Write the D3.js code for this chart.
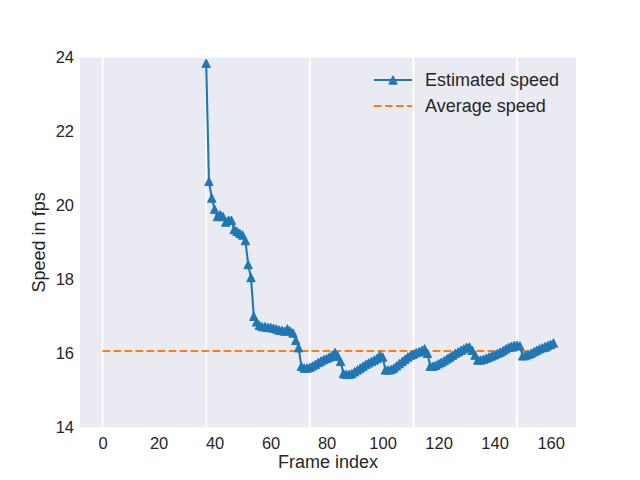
<!DOCTYPE html>
<html>
<head>
<meta charset="utf-8">
<script src="https://cdn.jsdelivr.net/npm/d3@7"></script>
<style>
  html, body { margin: 0; padding: 0; background: #fff; }
  svg text { font-family: "Liberation Sans", Arial, sans-serif; fill: #262626; }
</style>
</head>
<body>
<svg id="chart" width="640" height="480"></svg>
<script>
// frame indices that have an estimate
const frames = [
  37, 38, 39, 40, 41, 42, 43, 44, 45, 46,
  47, 48, 49, 50, 51, 52, 53, 54, 55, 56,
  57, 58, 59, 60, 61, 62, 63, 64, 65, 66,
  67, 68, 69, 70, 71, 72, 73, 74, 75, 76,
  77, 78, 79, 80, 81, 82, 83, 84, 85, 86,
  87, 88, 89, 90, 91, 92, 93, 94, 95, 96,
  97, 98, 99, 100, 101, 102, 103, 104, 105, 106,
  107, 108, 109, 110, 111, 112, 113, 114, 115, 116,
  117, 118, 119, 120, 121, 122, 123, 124, 125, 126,
  127, 128, 129, 130, 131, 132, 133, 134, 135, 136,
  137, 138, 139, 140, 141, 142, 143, 144, 145, 146,
  147, 148, 149, 150, 151, 152, 153, 154, 155, 156,
  157, 158, 159, 160, 161
];

// estimated speed (fps), one per frame above
const estimatedSpeed = [
  23.85, 20.65, 20.2, 19.9, 19.7, 19.75, 19.7, 19.55, 19.6, 19.6,
  19.35, 19.3, 19.25, 19.2, 19.05, 18.4, 18.05, 17.0, 16.85, 16.76,
  16.72, 16.72, 16.7, 16.7, 16.68, 16.66, 16.63, 16.62, 16.6, 16.66,
  16.6, 16.55, 16.35, 16.15, 15.65, 15.6, 15.6, 15.62, 15.66, 15.7,
  15.75, 15.79, 15.83, 15.86, 15.9, 15.95, 16.02, 15.92, 15.78, 15.45,
  15.43, 15.43, 15.45, 15.5, 15.55, 15.6, 15.65, 15.7, 15.74, 15.78,
  15.82, 15.86, 15.95, 15.9, 15.55, 15.55, 15.56, 15.6, 15.66, 15.72,
  15.78, 15.84, 15.9, 15.95, 15.98, 16.02, 16.04, 16.08, 16.12, 16.0,
  15.65, 15.65, 15.68, 15.72, 15.76, 15.8, 15.85, 15.9, 15.95, 16.0,
  16.04, 16.08, 16.12, 16.16, 16.17, 16.08, 15.95, 15.82, 15.82, 15.84,
  15.87, 15.9, 15.93, 15.96, 16.0, 16.03, 16.07, 16.12, 16.16, 16.19,
  16.21, 16.22, 16.2, 15.93, 15.94, 15.97, 16.0, 16.04, 16.08, 16.12,
  16.15, 16.18, 16.21, 16.24, 16.28
];

const avgFrames = [0, 161];
const avgSpeed = 16.06;

const xTicks = [0, 20, 40, 60, 80, 100, 120, 140, 160];
const yTicks = [14, 16, 18, 20, 22, 24];
const gridFrames = [0, 37, 74, 111, 148];

const legendLabels = ["Estimated speed", "Average speed"];

const blue = "#1f77b4";
const orange = "#ff7f0e";

const margin = { top: 57.6, right: 64, bottom: 52.8, left: 80 };
const width = 640 - margin.left - margin.right;
const height = 480 - margin.top - margin.bottom;

const svg = d3.select("#chart");
const g = svg.append("g").attr("transform", `translate(${margin.left},${margin.top})`);

const x = d3.scaleLinear().domain([-8.05, 169.05]).range([0, width]);
const y = d3.scaleLinear().domain([14, 24]).range([height, 0]);

g.append("rect").attr("width", width).attr("height", height).attr("fill", "#eaeaf2");

g.selectAll(".grid")
  .data(gridFrames)
  .join("line")
  .attr("class", "grid")
  .attr("x1", d => x(d)).attr("x2", d => x(d))
  .attr("y1", 0).attr("y2", height)
  .attr("stroke", "#fff").attr("stroke-width", 1.8);

const xAxis = g.append("g")
  .attr("transform", `translate(0,${height})`)
  .call(d3.axisBottom(x).tickValues(xTicks).tickSize(0).tickPadding(10));
const yAxis = g.append("g")
  .call(d3.axisLeft(y).tickValues(yTicks).tickSize(0).tickPadding(6));
[xAxis, yAxis].forEach(a => {
  a.select(".domain").remove();
  a.selectAll("text").style("font-size", "16.5px").attr("fill", "#262626");
});

svg.append("text")
  .attr("x", margin.left + width / 2).attr("y", 468)
  .attr("text-anchor", "middle").style("font-size", "18px")
  .text("Frame index");
svg.append("text")
  .attr("transform", `translate(45,${margin.top + height / 2}) rotate(-90)`)
  .attr("text-anchor", "middle").style("font-size", "18px")
  .text("Speed in fps");

const points = frames.map((f, i) => [f, estimatedSpeed[i]]);

g.append("path")
  .datum(avgFrames)
  .attr("fill", "none")
  .attr("stroke", orange).attr("stroke-width", 2.1)
  .attr("stroke-dasharray", "7.7,3.3")
  .attr("d", d3.line().x(d => x(d)).y(() => y(avgSpeed)));

g.append("path")
  .datum(points)
  .attr("fill", "none")
  .attr("stroke", blue).attr("stroke-width", 2.1)
  .attr("d", d3.line().x(d => x(d[0])).y(d => y(d[1])));

const tri = "M0,-4.2L4.2,4.2L-4.2,4.2Z";
g.selectAll(".marker")
  .data(points)
  .join("path")
  .attr("class", "marker")
  .attr("transform", d => `translate(${x(d[0])},${y(d[1])})`)
  .attr("d", tri)
  .attr("fill", blue).attr("stroke", blue).attr("stroke-width", 1);

// legend
const legend = svg.append("g").attr("transform", "translate(374,80)");
legendLabels.forEach((label, i) => {
  const row = legend.append("g").attr("transform", `translate(0,${i * 26})`);
  row.append("line")
    .attr("x1", 0).attr("x2", 38).attr("y1", 0).attr("y2", 0)
    .attr("stroke", i === 0 ? blue : orange).attr("stroke-width", 2.1)
    .attr("stroke-dasharray", i === 0 ? null : "7.7,3.3");
  if (i === 0) {
    row.append("path").attr("transform", "translate(19,0)").attr("d", tri)
      .attr("fill", blue).attr("stroke", blue).attr("stroke-width", 1);
  }
  row.append("text")
    .attr("x", 51).attr("y", 0).attr("dy", "0.35em")
    .style("font-size", "18px")
    .text(label);
});
</script>
</body>
</html>
